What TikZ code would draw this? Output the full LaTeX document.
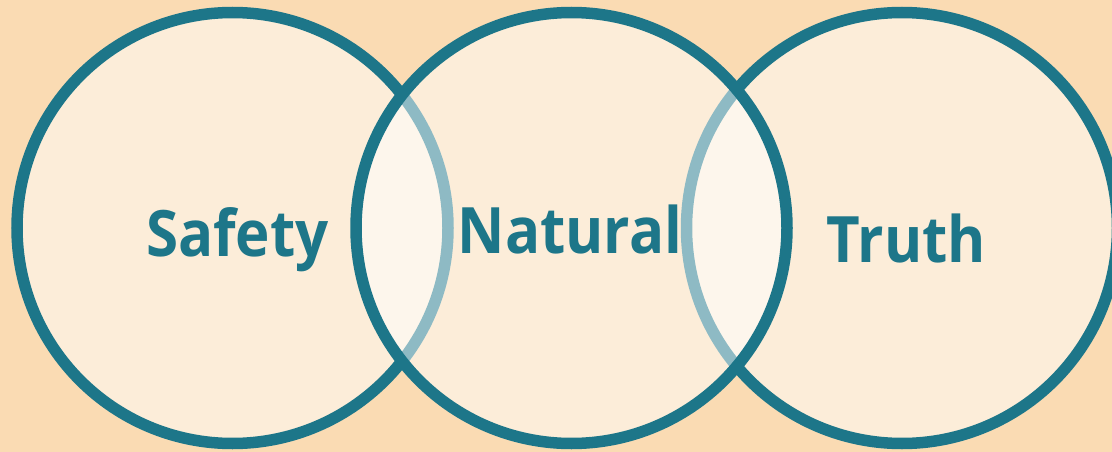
\documentclass[tikz,border=0pt]{standalone}
\usepackage{fontspec}
\setmainfont[FakeStretch=0.91]{Open Sans}
\definecolor{bgc}{HTML}{FADBB3}
\definecolor{ringc}{HTML}{1D7689}
\begin{document}
\begin{tikzpicture}[x=1pt,y=-1pt,
  ring/.style={circle, inner sep=0pt, minimum size=431pt, draw=ringc, line width=11.5pt, fill=white, fill opacity=0.5, draw opacity=1},
  lbl/.style={text=ringc, font=\fontsize{64}{70}\selectfont\bfseries, anchor=base, inner sep=0pt}]
\fill[bgc] (0,0) rectangle (1112,452);
\useasboundingbox (0,0) rectangle (1112,452);
\node[ring] (c1) at (232.5,228) {};
\node[ring] (c3) at (902,228) {};
\node[ring] (c2) at (571.5,228) {};
\node[lbl] (t1) at (237.5,256) {Safety};
\node[lbl] (t2) at (570,253) {Natural};
\node[lbl] (t3) at (906.5,262) {Truth};
\end{tikzpicture}
\end{document}
